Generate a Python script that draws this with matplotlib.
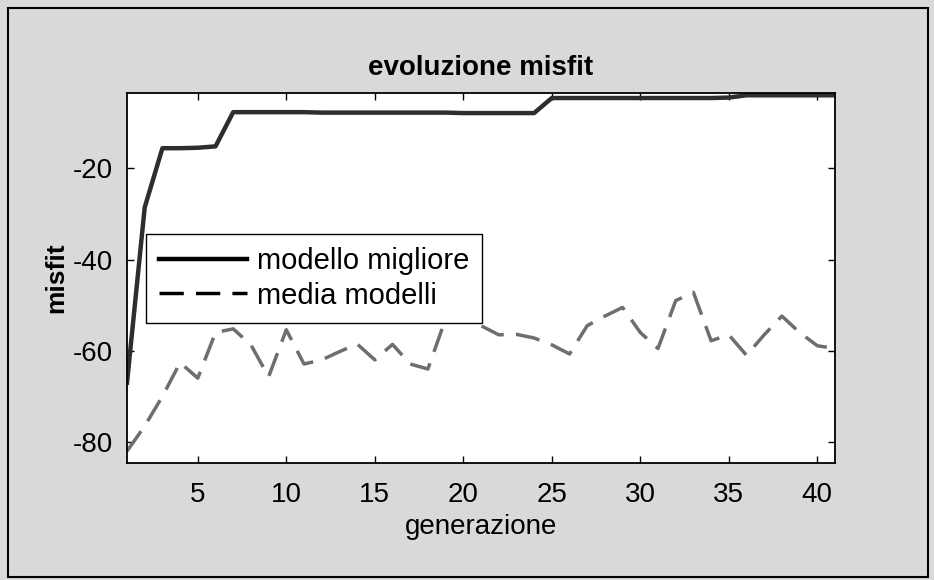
import matplotlib
matplotlib.use("Agg")
import matplotlib.pyplot as plt
from matplotlib.lines import Line2D
from matplotlib.patches import Rectangle

# dati
generazione = list(range(1, 42))
modello_migliore = [-67.0, -28.6, -15.6, -15.6, -15.5, -15.2,
                    -7.7, -7.7, -7.7, -7.7, -7.7, -7.8, -7.8, -7.8, -7.8, -7.8, -7.8, -7.8,
                    -7.8, -7.9, -7.9, -7.9, -7.9, -7.9,
                    -4.6, -4.6, -4.6, -4.6, -4.6, -4.6, -4.6, -4.6, -4.6, -4.6, -4.5,
                    -4.0, -4.0, -4.0, -4.0, -4.0, -4.0]
media_modelli = [-82.0, -76.5, -70.0, -62.6, -66.0, -56.0, -55.2, -58.7, -65.7, -55.4,
                 -62.9, -62.0, -60.2, -58.5, -62.0, -58.6, -62.9, -64.0, -53.0, -52.7,
                 -54.5, -56.5, -56.4, -57.2, -58.7, -60.7, -54.5, -52.4, -50.5, -56.0,
                 -59.5, -49.0, -47.2, -57.8, -56.5, -61.0, -56.5, -52.4, -56.0, -58.9,
                 -59.5]
xticks = [5, 10, 15, 20, 25, 30, 35, 40]
yticks = [-80, -60, -40, -20]

plt.rcParams['font.family'] = ['Liberation Sans', 'DejaVu Sans']
plt.rcParams['axes.unicode_minus'] = False

fig = plt.figure(figsize=(9.34, 5.8), dpi=100)
fig.patch.set_facecolor('#d9d9d9')
fig.patches.append(Rectangle((0.0086, 0.005), 0.985, 0.981, transform=fig.transFigure,
                             fill=False, edgecolor='black', linewidth=1.5))

ax = fig.add_axes([127/934, 117/580, 708/934, 370/580])
ax.plot(generazione, modello_migliore, color='#2e2e2e', linewidth=3.2)
ax.plot(generazione, media_modelli, color='#6e6e6e', linewidth=2.5, dashes=(7, 3.5))

ax.set_xlim(1, 41)
ax.set_ylim(-84.6, -3.5)
ax.set_xticks(xticks)
ax.set_yticks(yticks)
ax.tick_params(direction='in', length=5, width=1, top=True, right=True,
               labelsize=20, pad=10)
ax.tick_params(axis='x', pad=14)
for s in ax.spines.values():
    s.set_linewidth(1.3)

ax.set_title('evoluzione misfit', fontsize=20, fontweight='bold', pad=13)
ax.set_xlabel('generazione', fontsize=20, labelpad=4)
ax.set_ylabel('misfit', fontsize=19, fontweight='bold', labelpad=3)

handles = [Line2D([], [], color='black', linewidth=3.2),
           Line2D([], [], color='black', linewidth=2.5, dashes=(7, 3.5))]
leg = ax.legend(handles, ['modello migliore', 'media modelli'],
                loc='upper left', bbox_to_anchor=(19/708, 229/370),
                borderaxespad=0, fontsize=21, handlelength=3.0, handletextpad=0.35,
                labelspacing=0.22, borderpad=0.45, fancybox=False, framealpha=1,
                edgecolor='black')
leg.get_frame().set_linewidth(1.0)

fig.savefig('out.png', dpi=100, facecolor=fig.get_facecolor())
